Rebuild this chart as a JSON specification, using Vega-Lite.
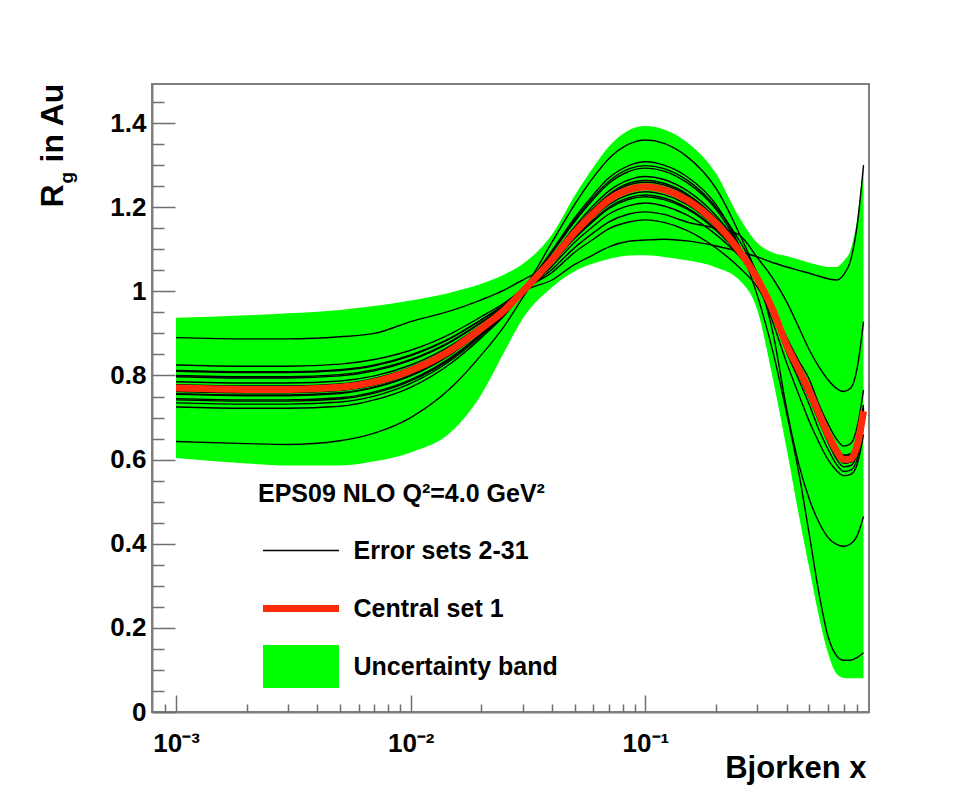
{
  "$schema": "https://vega.github.io/schema/vega-lite/v6.json",
  "width": 717,
  "height": 628,
  "autosize": {"type": "none"},
  "padding": {"left": 152, "top": 84, "right": 92, "bottom": 78},
  "background": "white",
  "config": {
    "view": {"stroke": "#7f7f7f", "strokeWidth": 2},
    "font": "Liberation Sans"
  },
  "data": {
    "values": [
      {"x":0.001,"c":0.770,"lo":0.604,"hi":0.937,"e01":0.890,"e02":0.643,"e03":0.800,"e04":0.745,"e05":0.812,"e06":0.735,"e07":0.825,"e08":0.725,"e09":0.797,"e10":0.755,"e11":0.785,"e12":0.757,"e13":0.778,"e14":0.762,"e15":0.810,"e16":0.742},
      {"x":0.002,"c":0.767,"lo":0.591,"hi":0.943,"e01":0.887,"e02":0.638,"e03":0.797,"e04":0.742,"e05":0.809,"e06":0.732,"e07":0.822,"e08":0.722,"e09":0.794,"e10":0.752,"e11":0.782,"e12":0.754,"e13":0.775,"e14":0.759,"e15":0.807,"e16":0.739},
      {"x":0.003,"c":0.767,"lo":0.586,"hi":0.948,"e01":0.887,"e02":0.636,"e03":0.797,"e04":0.742,"e05":0.809,"e06":0.732,"e07":0.822,"e08":0.722,"e09":0.794,"e10":0.752,"e11":0.782,"e12":0.754,"e13":0.775,"e14":0.759,"e15":0.807,"e16":0.739},
      {"x":0.005,"c":0.772,"lo":0.586,"hi":0.956,"e01":0.892,"e02":0.645,"e03":0.802,"e04":0.747,"e05":0.814,"e06":0.737,"e07":0.827,"e08":0.727,"e09":0.799,"e10":0.757,"e11":0.787,"e12":0.759,"e13":0.780,"e14":0.764,"e15":0.812,"e16":0.744},
      {"x":0.007,"c":0.785,"lo":0.596,"hi":0.965,"e01":0.900,"e02":0.663,"e03":0.814,"e04":0.761,"e05":0.825,"e06":0.751,"e07":0.838,"e08":0.742,"e09":0.811,"e10":0.771,"e11":0.799,"e12":0.773,"e13":0.793,"e14":0.777,"e15":0.823,"e16":0.758},
      {"x":0.01,"c":0.812,"lo":0.617,"hi":0.978,"e01":0.928,"e02":0.700,"e03":0.838,"e04":0.790,"e05":0.849,"e06":0.781,"e07":0.860,"e08":0.772,"e09":0.836,"e10":0.799,"e11":0.825,"e12":0.801,"e13":0.819,"e14":0.805,"e15":0.847,"e16":0.787},
      {"x":0.015,"c":0.862,"lo":0.668,"hi":0.998,"e01":0.955,"e02":0.773,"e03":0.883,"e04":0.845,"e05":0.891,"e06":0.838,"e07":0.901,"e08":0.831,"e09":0.881,"e10":0.852,"e11":0.873,"e12":0.853,"e13":0.868,"e14":0.856,"e15":0.890,"e16":0.842},
      {"x":0.02,"c":0.912,"lo":0.755,"hi":1.018,"e01":0.980,"e02":0.849,"e03":0.927,"e04":0.900,"e05":0.933,"e06":0.895,"e07":0.940,"e08":0.890,"e09":0.926,"e10":0.905,"e11":0.920,"e12":0.906,"e13":0.916,"e14":0.908,"e15":0.932,"e16":0.898},
      {"x":0.025,"c":0.955,"lo":0.855,"hi":1.040,"e01":1.003,"e02":0.917,"e03":0.964,"e04":0.948,"e05":0.968,"e06":0.945,"e07":0.972,"e08":0.942,"e09":0.963,"e10":0.951,"e11":0.960,"e12":0.951,"e13":0.957,"e14":0.953,"e15":0.967,"e16":0.947},
      {"x":0.03,"c":1.000,"lo":0.935,"hi":1.065,"e01":1.027,"e02":0.985,"e03":1.004,"e04":0.997,"e05":1.005,"e06":0.996,"e07":1.007,"e08":0.995,"e09":1.003,"e10":0.998,"e11":1.002,"e12":0.998,"e13":1.001,"e14":0.999,"e15":1.005,"e16":0.997},
      {"x":0.04,"c":1.075,"lo":1.010,"hi":1.135,"e01":1.067,"e02":1.094,"e03":1.117,"e04":1.027,"e05":1.097,"e06":1.052,"e07":1.092,"e08":1.060,"e09":1.084,"e10":1.066,"e11":1.045,"e12":1.079,"e13":1.070,"e14":1.077,"e15":1.073,"e16":1.081},
      {"x":0.05,"c":1.140,"lo":1.048,"hi":1.228,"e01":1.128,"e02":1.170,"e03":1.207,"e04":1.064,"e05":1.175,"e06":1.104,"e07":1.166,"e08":1.117,"e09":1.154,"e10":1.126,"e11":1.093,"e12":1.147,"e13":1.133,"e14":1.143,"e15":1.137,"e16":1.149},
      {"x":0.06,"c":1.185,"lo":1.066,"hi":1.295,"e01":1.170,"e02":1.224,"e03":1.271,"e04":1.087,"e05":1.230,"e06":1.139,"e07":1.219,"e08":1.155,"e09":1.204,"e10":1.167,"e11":1.124,"e12":1.194,"e13":1.176,"e14":1.189,"e15":1.181,"e16":1.197},
      {"x":0.07,"c":1.218,"lo":1.077,"hi":1.345,"e01":1.200,"e02":1.262,"e03":1.316,"e04":1.106,"e05":1.270,"e06":1.165,"e07":1.257,"e08":1.184,"e09":1.239,"e10":1.197,"e11":1.149,"e12":1.228,"e13":1.207,"e14":1.222,"e15":1.214,"e16":1.231},
      {"x":0.085,"c":1.242,"lo":1.085,"hi":1.383,"e01":1.223,"e02":1.291,"e03":1.350,"e04":1.119,"e05":1.299,"e06":1.184,"e07":1.285,"e08":1.204,"e09":1.265,"e10":1.219,"e11":1.165,"e12":1.253,"e13":1.230,"e14":1.247,"e15":1.237,"e16":1.257},
      {"x":0.1,"c":1.249,"lo":1.086,"hi":1.393,"e01":1.229,"e02":1.299,"e03":1.360,"e04":1.122,"e05":1.308,"e06":1.189,"e07":1.293,"e08":1.210,"e09":1.273,"e10":1.225,"e11":1.170,"e12":1.260,"e13":1.237,"e14":1.254,"e15":1.244,"e16":1.264},
      {"x":0.12,"c":1.242,"lo":1.082,"hi":1.385,"e01":1.222,"e02":1.292,"e03":1.352,"e04":1.124,"e05":1.300,"e06":1.183,"e07":1.286,"e08":1.203,"e09":1.266,"e10":1.218,"e11":1.164,"e12":1.253,"e13":1.230,"e14":1.247,"e15":1.237,"e16":1.257},
      {"x":0.15,"c":1.218,"lo":1.074,"hi":1.355,"e01":1.199,"e02":1.265,"e03":1.321,"e04":1.120,"e05":1.273,"e06":1.165,"e07":1.259,"e08":1.182,"e09":1.240,"e10":1.196,"e11":1.145,"e12":1.228,"e13":1.207,"e14":1.223,"e15":1.213,"e16":1.232},
      {"x":0.2,"c":1.162,"lo":1.057,"hi":1.280,"e01":1.147,"e02":1.200,"e03":1.245,"e04":1.108,"e05":1.206,"e06":1.150,"e07":1.195,"e08":1.135,"e09":1.180,"e10":1.145,"e11":1.103,"e12":1.170,"e13":1.153,"e14":1.166,"e15":1.158,"e16":1.173},
      {"x":0.25,"c":1.098,"lo":1.028,"hi":1.178,"e01":1.088,"e02":1.123,"e03":1.140,"e04":1.095,"e05":1.110,"e06":1.135,"e07":1.110,"e08":1.085,"e09":1.110,"e10":1.090,"e11":1.058,"e12":1.104,"e13":1.092,"e14":1.100,"e15":1.096,"e16":1.106},
      {"x":0.3,"c":1.030,"lo":0.955,"hi":1.115,"e01":1.025,"e02":1.043,"e03":1.035,"e04":1.082,"e05":0.990,"e06":1.080,"e07":1.020,"e08":1.030,"e09":1.030,"e10":1.030,"e11":1.010,"e12":1.033,"e13":1.027,"e14":1.031,"e15":1.029,"e16":1.034},
      {"x":0.35,"c":0.955,"lo":0.790,"hi":1.092,"e01":0.953,"e02":0.959,"e03":0.900,"e04":1.068,"e05":0.855,"e06":1.030,"e07":0.925,"e08":0.960,"e09":0.945,"e10":0.960,"e11":0.940,"e12":0.956,"e13":0.954,"e14":0.955,"e15":0.955,"e16":0.956},
      {"x":0.4,"c":0.872,"lo":0.625,"hi":1.084,"e01":0.867,"e02":0.877,"e03":0.720,"e04":1.058,"e05":0.710,"e06":0.975,"e07":0.830,"e08":0.890,"e09":0.860,"e10":0.885,"e11":0.855,"e12":0.880,"e13":0.864,"e14":0.875,"e15":0.872,"e16":0.864},
      {"x":0.45,"c":0.815,"lo":0.470,"hi":1.076,"e01":0.810,"e02":0.820,"e03":0.590,"e04":1.050,"e05":0.570,"e06":0.915,"e07":0.755,"e08":0.835,"e09":0.800,"e10":0.826,"e11":0.790,"e12":0.823,"e13":0.807,"e14":0.818,"e15":0.815,"e16":0.807},
      {"x":0.5,"c":0.762,"lo":0.340,"hi":1.068,"e01":0.757,"e02":0.767,"e03":0.505,"e04":1.043,"e05":0.420,"e06":0.860,"e07":0.690,"e08":0.790,"e09":0.745,"e10":0.773,"e11":0.730,"e12":0.770,"e13":0.754,"e14":0.765,"e15":0.762,"e16":0.754},
      {"x":0.55,"c":0.708,"lo":0.225,"hi":1.062,"e01":0.703,"e02":0.713,"e03":0.450,"e04":1.036,"e05":0.280,"e06":0.820,"e07":0.640,"e08":0.730,"e09":0.690,"e10":0.720,"e11":0.670,"e12":0.716,"e13":0.700,"e14":0.711,"e15":0.708,"e16":0.700},
      {"x":0.6,"c":0.660,"lo":0.140,"hi":1.058,"e01":0.655,"e02":0.665,"e03":0.415,"e04":1.030,"e05":0.180,"e06":0.790,"e07":0.600,"e08":0.685,"e09":0.642,"e10":0.672,"e11":0.625,"e12":0.668,"e13":0.652,"e14":0.663,"e15":0.660,"e16":0.652},
      {"x":0.65,"c":0.622,"lo":0.092,"hi":1.058,"e01":0.617,"e02":0.627,"e03":0.399,"e04":1.027,"e05":0.135,"e06":0.770,"e07":0.575,"e08":0.650,"e09":0.603,"e10":0.633,"e11":0.590,"e12":0.630,"e13":0.614,"e14":0.625,"e15":0.622,"e16":0.614},
      {"x":0.7,"c":0.600,"lo":0.081,"hi":1.072,"e01":0.595,"e02":0.605,"e03":0.394,"e04":1.040,"e05":0.123,"e06":0.762,"e07":0.562,"e08":0.632,"e09":0.583,"e10":0.611,"e11":0.572,"e12":0.608,"e13":0.592,"e14":0.603,"e15":0.600,"e16":0.592},
      {"x":0.75,"c":0.602,"lo":0.080,"hi":1.100,"e01":0.597,"e02":0.607,"e03":0.400,"e04":1.075,"e05":0.123,"e06":0.770,"e07":0.565,"e08":0.638,"e09":0.586,"e10":0.614,"e11":0.575,"e12":0.610,"e13":0.594,"e14":0.605,"e15":0.602,"e16":0.594},
      {"x":0.8,"c":0.635,"lo":0.080,"hi":1.175,"e01":0.630,"e02":0.640,"e03":0.420,"e04":1.160,"e05":0.130,"e06":0.820,"e07":0.590,"e08":0.680,"e09":0.617,"e10":0.648,"e11":0.603,"e12":0.643,"e13":0.627,"e14":0.638,"e15":0.635,"e16":0.627},
      {"x":0.85,"c":0.715,"lo":0.080,"hi":1.305,"e01":0.710,"e02":0.720,"e03":0.465,"e04":1.300,"e05":0.141,"e06":0.928,"e07":0.660,"e08":0.766,"e09":0.700,"e10":0.730,"e11":0.680,"e12":0.723,"e13":0.707,"e14":0.718,"e15":0.715,"e16":0.707}
    ]
  },
  "layer": [
    {
      "mark": {"type": "area", "interpolate": "monotone", "opacity": 1},
      "encoding": {
        "x": {
          "field": "x", "type": "quantitative",
          "scale": {"type": "log", "domain": [0.00079, 0.897], "nice": false},
          "axis": {
            "orient": "bottom",
            "values": [0.001, 0.01, 0.1],
            "labelExpr": "datum.value < 0.005 ? '10⁻³' : datum.value < 0.05 ? '10⁻²' : '10⁻¹'",
            "ticks": false, "grid": false,
            "domain": true, "domainColor": "#7f7f7f", "domainWidth": 2,
            "labelFont": "Liberation Sans", "labelFontSize": 26, "labelFontWeight": "bold", "labelColor": "#000000",
            "labelPadding": 18, "labelFlush": false, "labelOverlap": false,
            "title": "Bjorken x", "titleFont": "Liberation Sans", "titleFontSize": 31, "titleFontWeight": "bold", "titleColor": "#000000",
            "titleX": 714, "titleY": 65, "titleAlign": "right", "titleBaseline": "alphabetic", "titleAnchor": "end"
          }
        },
        "y": {
          "field": "lo", "type": "quantitative",
          "scale": {"domain": [0, 1.493], "nice": false, "zero": false},
          "axis": {
            "orient": "left",
            "values": [0, 0.2, 0.4, 0.6, 0.8, 1, 1.2, 1.4],
            "format": "~g",
            "ticks": false, "grid": false,
            "domain": true, "domainColor": "#7f7f7f", "domainWidth": 2,
            "labelFont": "Liberation Sans", "labelFontSize": 26, "labelFontWeight": "bold", "labelColor": "#000000",
            "labelPadding": 6, "labelFlush": false, "labelOverlap": false,
            "title": "R", "titleFont": "Liberation Sans", "titleFontSize": 32, "titleFontWeight": "bold", "titleColor": "#000000",
            "titleX": -90, "titleY": 123, "titleAngle": 270, "titleAlign": "left", "titleBaseline": "alphabetic"
          }
        },
        "y2": {"field": "hi"},
        "color": {
          "datum": "Uncertainty band", "type": "nominal",
          "scale": {"domain": ["Error sets 2-31", "Central set 1", "Uncertainty band"], "range": ["#000000", "#ff2a0a", "#00ff00"]},
          "legend": {
            "orient": "none", "legendX": 106, "legendY": 398, "direction": "vertical",
            "title": "EPS09 NLO Q²=4.0 GeV²",
            "titleFont": "Liberation Sans", "titleFontSize": 25, "titleFontWeight": "bold", "titleColor": "#000000", "titlePadding": 31, "titleLimit": 600,
            "labelFont": "Liberation Sans", "labelFontSize": 25, "labelFontWeight": "bold", "labelColor": "#000000", "labelOffset": 40, "labelLimit": 500,
            "symbolSize": 5776, "symbolOffset": 30.5,
            "symbolType": {"expr": "datum.value === 'Uncertainty band' ? 'M-1,-0.566H1V0.566H-1Z' : 'stroke'"},
            "symbolStrokeWidth": {"expr": "datum.value === 'Central set 1' ? 7 : datum.value === 'Error sets 2-31' ? 1.4 : 0"},
            "symbolOpacity": 1,
            "rowPadding": 13, "gridAlign": "all", "padding": 0
          }
        }
      }
    },
    {
      "transform": [
        {"fold": ["e01","e02","e03","e04","e05","e06","e07","e08","e09","e10","e11","e12","e13","e14","e15","e16"], "as": ["set", "r"]}
      ],
      "mark": {"type": "line", "interpolate": "monotone", "strokeWidth": 1.4},
      "encoding": {
        "x": {
          "field": "x", "type": "quantitative",
          "axis": {
            "orient": "bottom", "values": [0.001, 0.01, 0.1],
            "labels": false, "domain": false, "grid": false, "title": null,
            "ticks": true, "tickSize": -17, "tickColor": "#6f6f6f", "tickWidth": 1.5
          }
        },
        "y": {
          "field": "r", "type": "quantitative",
          "axis": {
            "orient": "left", "values": [0, 0.2, 0.4, 0.6, 0.8, 1, 1.2, 1.4],
            "labels": false, "domain": false, "grid": false,
            "ticks": true, "tickSize": -23, "tickColor": "#6f6f6f", "tickWidth": 1.5,
            "title": "g", "titleFont": "Liberation Sans", "titleFontSize": 19, "titleFontWeight": "bold", "titleColor": "#000000",
            "titleX": -80, "titleY": 99, "titleAngle": 270, "titleAlign": "left", "titleBaseline": "alphabetic"
          }
        },
        "detail": {"field": "set", "type": "nominal"},
        "color": {"datum": "Error sets 2-31", "type": "nominal"}
      }
    },
    {
      "mark": {"type": "line", "interpolate": "monotone", "strokeWidth": 7},
      "encoding": {
        "x": {
          "field": "x", "type": "quantitative",
          "axis": {
            "orient": "bottom",
            "values": [0.0009, 0.002, 0.003, 0.004, 0.005, 0.006, 0.007, 0.008, 0.009, 0.02, 0.03, 0.04, 0.05, 0.06, 0.07, 0.08, 0.09, 0.2, 0.3, 0.4, 0.5, 0.6, 0.7, 0.8],
            "labels": false, "domain": false, "grid": false, "title": null,
            "ticks": true, "tickSize": -8, "tickColor": "#6f6f6f", "tickWidth": 1.5
          }
        },
        "y": {
          "field": "c", "type": "quantitative",
          "axis": {
            "orient": "left",
            "values": [0.05, 0.1, 0.15, 0.25, 0.3, 0.35, 0.45, 0.5, 0.55, 0.65, 0.7, 0.75, 0.85, 0.9, 0.95, 1.05, 1.1, 1.15, 1.25, 1.3, 1.35, 1.45],
            "labels": false, "domain": false, "grid": false,
            "ticks": true, "tickSize": -12, "tickColor": "#6f6f6f", "tickWidth": 1.5,
            "title": "in Au", "titleFont": "Liberation Sans", "titleFontSize": 32, "titleFontWeight": "bold", "titleColor": "#000000",
            "titleX": -90, "titleY": 78, "titleAngle": 270, "titleAlign": "left", "titleBaseline": "alphabetic"
          }
        },
        "color": {"datum": "Central set 1", "type": "nominal"}
      }
    }
  ],
  "resolve": {"axis": {"x": "independent", "y": "independent"}}
}
